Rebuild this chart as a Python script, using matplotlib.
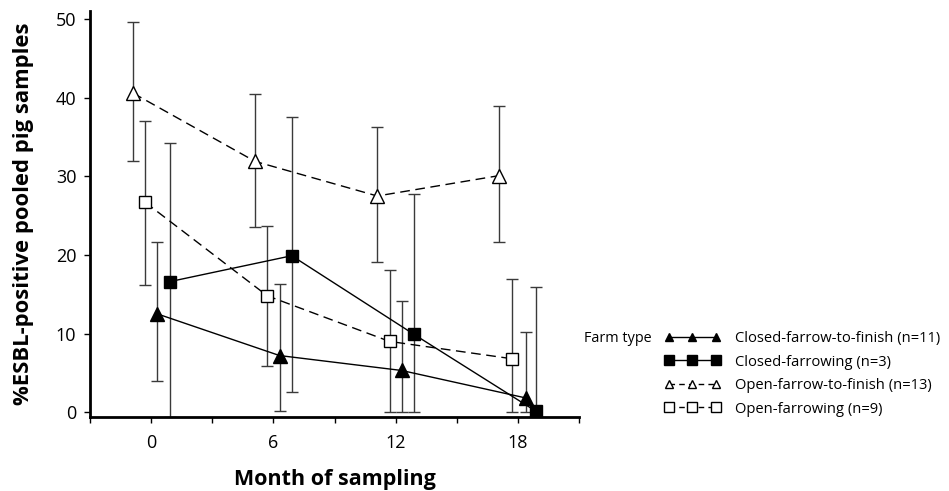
import matplotlib.pyplot as plt
from matplotlib.lines import Line2D
from matplotlib.ticker import MultipleLocator

plt.rcParams['font.family'] = ['Open Sans', 'DejaVu Sans']

# x positions (month of sampling, dodged per farm type)
x_cff = [0.3, 6.3, 12.3, 18.4]
x_cf = [0.9, 6.9, 12.9, 18.9]
x_off = [-0.9, 5.1, 11.1, 17.1]
x_of = [-0.3, 5.7, 11.7, 17.7]

# % positive with lower / upper confidence bounds
y_cff = [12.5, 7.2, 5.3, 1.8]
lo_cff = [3.9, 0.1, 0.0, 0.0]
hi_cff = [21.6, 16.3, 14.1, 10.2]

y_cf = [16.6, 19.9, 9.9, 0.1]
lo_cf = [-0.6, 2.5, 0.0, 0.0]
hi_cf = [34.2, 37.5, 27.7, 15.9]

y_off = [40.6, 31.9, 27.5, 30.1]
lo_off = [32.0, 23.6, 19.1, 21.6]
hi_off = [49.6, 40.5, 36.3, 39.0]

y_of = [26.7, 14.8, 9.0, 6.8]
lo_of = [16.2, 5.9, 0.0, 0.0]
hi_of = [37.1, 23.7, 18.1, 17.0]

labels = ['Closed-farrow-to-finish (n=11)', 'Closed-farrowing (n=3)',
          'Open-farrow-to-finish (n=13)', 'Open-farrowing (n=9)']

fig = plt.figure(figsize=(9.49, 4.91), dpi=100)
ax = fig.add_axes([0.095, 0.151, 0.515, 0.826])

# x, y, lo, hi, marker, face, linestyle, plot size, legend size
series = [
    (x_cff, y_cff, lo_cff, hi_cff, '^', 'black', '-', 10, 6),
    (x_cf, y_cf, lo_cf, hi_cf, 's', 'black', '-', 8.8, 7.5),
    (x_off, y_off, lo_off, hi_off, '^', 'white', '--', 10, 6),
    (x_of, y_of, lo_of, hi_of, 's', 'white', '--', 9, 6.5),
]

handles = []
for (xs, ys, lo, hi, m, fc, ls, ms, lms), lab in zip(series, labels):
    err = [[y - l for y, l in zip(ys, lo)], [h - y for y, h in zip(ys, hi)]]
    ax.errorbar(xs, ys, yerr=err, fmt='none', ecolor='#3a3a3a', elinewidth=1,
                capsize=4, capthick=1, zorder=2)
    line, = ax.plot(xs, ys, linestyle=ls, color='black', lw=1, marker=m,
                    markersize=ms, markerfacecolor=fc, markeredgecolor='black',
                    markeredgewidth=1, zorder=3)
    proxy = Line2D([], [], linestyle=ls, color='black', lw=1, marker=m,
                   markersize=lms, markerfacecolor=fc, markeredgecolor='black',
                   markeredgewidth=1, label=lab)
    if ls == '--':
        line.set_dashes((7, 4))
        proxy.set_dashes((4, 3))
    handles.append(proxy)

ax.set_xlim(-3, 21)
ax.set_ylim(-0.6, 51)
ax.set_xticks([0, 6, 12, 18])
ax.xaxis.set_minor_locator(MultipleLocator(3))
ax.set_yticks([0, 10, 20, 30, 40, 50])
ax.tick_params(axis='both', labelsize=13, width=1, length=4, color='black')
ax.tick_params(axis='y', pad=6)
ax.tick_params(axis='x', pad=8)
ax.tick_params(axis='x', which='minor', width=1, length=4)
ax.spines['top'].set_visible(False)
ax.spines['right'].set_visible(False)
ax.spines['left'].set_linewidth(2)
ax.spines['bottom'].set_linewidth(2)

ax.set_ylabel('%ESBL-positive pooled pig samples', fontsize=15.8,
              fontweight='bold')
ax.yaxis.set_label_coords(-0.115, 0.5)
ax.set_xlabel('Month of sampling', fontsize=15.5, fontweight='bold')
ax.xaxis.set_label_coords(0.5, -0.128)

leg = fig.legend(handles=handles, loc='upper left',
                 bbox_to_anchor=(0.700, 1 - 331 / 491), frameon=False,
                 fontsize=10.6, numpoints=3, handlelength=3.8,
                 handletextpad=1.0, labelspacing=0.58, borderaxespad=0,
                 borderpad=0)
fig.text(652 / 949, 1 - 338 / 491, 'Farm type', fontsize=10.4, ha='right',
         va='center')

fig.savefig('out.png', dpi=100)
